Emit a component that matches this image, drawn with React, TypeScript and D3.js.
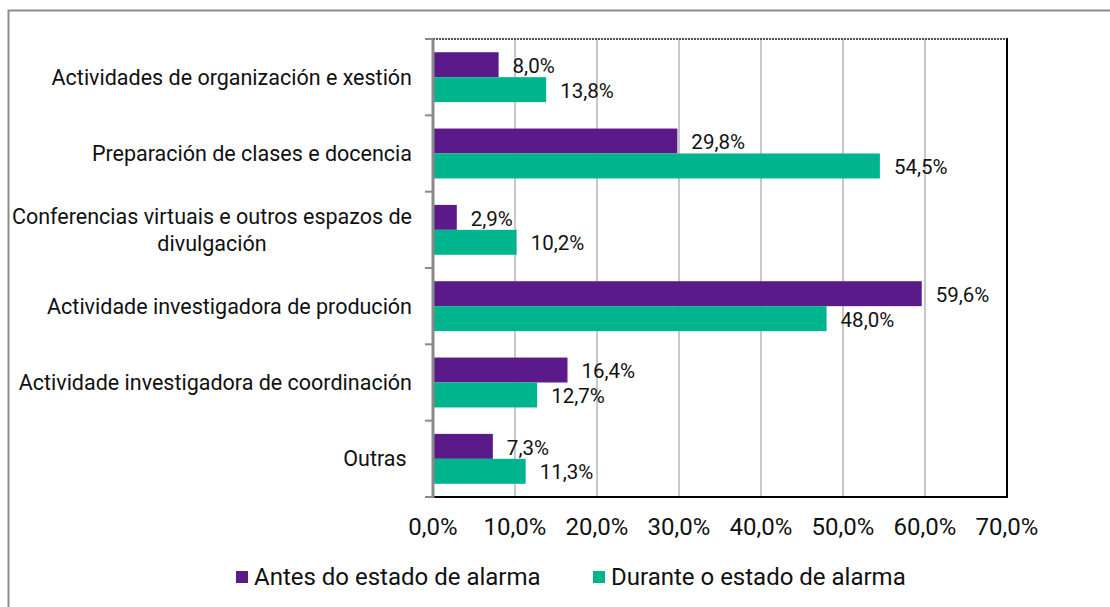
import React, { useRef, useEffect } from "react";
import * as d3 from "d3";

const categories = [
  ["Actividades de organización e xestión"],
  ["Preparación de clases e docencia"],
  ["Conferencias virtuais e outros espazos de", "divulgación"],
  ["Actividade investigadora de produción"],
  ["Actividade investigadora de coordinación"],
  ["Outras\u00a0"],
];
const antes = [8.0, 29.8, 2.9, 59.6, 16.4, 7.3];
const durante = [13.8, 54.5, 10.2, 48.0, 12.7, 11.3];
const seriesNames = ["Antes do estado de alarma", "Durante o estado de alarma"];
const xTicks = [0, 10, 20, 30, 40, 50, 60, 70];

const colors = ["#5a1a8a", "#00b48e"];
const fmt = (v: number) => v.toFixed(1).replace(".", ",") + "%";

const App = () => {
  const svgRef = useRef<SVGSVGElement>(null);

  useEffect(() => {
    const width = 1110;
    const height = 607;
    const svg = d3.select(svgRef.current).attr("width", width).attr("height", height);
    svg.selectAll("*").remove();
    const font = "Roboto, sans-serif";

    // outer frame
    svg.append("path")
      .attr("d", `M8.5,${height} L8.5,10.5 L${width},10.5`)
      .attr("fill", "none").attr("stroke", "#8c8c8c").attr("stroke-width", 2);

    const left = 433, right = 1007, top = 39, bottom = 497;
    const x = d3.scaleLinear().domain([0, 70]).range([left, right]);
    const y = d3.scaleBand().domain(d3.range(categories.length).map(String)).range([top, bottom]);
    const inner = d3.scaleBand().domain(["0", "1"]).range([0, y.bandwidth()]).paddingOuter(0.53).paddingInner(0);

    // gridlines
    svg.append("g").selectAll("line").data(xTicks.slice(1, -1)).enter().append("line")
      .attr("x1", d => x(d)).attr("x2", d => x(d))
      .attr("y1", top).attr("y2", bottom)
      .attr("stroke", "#c8c8c8").attr("stroke-width", 2);

    // top dotted border
    svg.append("line").attr("x1", left).attr("x2", right).attr("y1", top).attr("y2", top)
      .attr("stroke", "#555").attr("stroke-width", 2).attr("stroke-dasharray", "2,1");
    // right line
    svg.append("line").attr("x1", right).attr("x2", right).attr("y1", top - 1).attr("y2", bottom)
      .attr("stroke", "#000").attr("stroke-width", 2);

    const series = [antes, durante];
    series.forEach((vals, si) => {
      const g = svg.append("g");
      g.selectAll("rect").data(vals).enter().append("rect")
        .attr("x", left)
        .attr("y", (d, i) => (y(String(i)) as number) + (inner(String(si)) as number))
        .attr("width", d => x(d) - left)
        .attr("height", inner.bandwidth())
        .attr("fill", colors[si]);
      g.selectAll("text").data(vals).enter().append("text")
        .attr("x", d => x(d) + 14)
        .attr("y", (d, i) => (y(String(i)) as number) + (inner(String(si)) as number) + inner.bandwidth() / 2 + 1)
        .attr("dy", "0.35em")
        .attr("font-family", font).attr("font-size", 20.5).attr("fill", "#111")
        .text(d => fmt(d));
    });

    // bottom axis
    svg.append("line").attr("x1", left - 1).attr("x2", right + 1).attr("y1", bottom).attr("y2", bottom)
      .attr("stroke", "#000").attr("stroke-width", 2);
    svg.append("g").selectAll("text").data(xTicks).enter().append("text")
      .attr("x", d => x(d)).attr("y", 527).attr("dy", "0.35em")
      .attr("text-anchor", "middle")
      .attr("font-family", font).attr("font-size", 24).attr("fill", "#111")
      .text(d => fmt(d));

    // left axis
    svg.append("line").attr("x1", left).attr("x2", left).attr("y1", top).attr("y2", bottom + 1)
      .attr("stroke", "#8a8a8a").attr("stroke-width", 3);
    svg.append("g").selectAll("line").data(d3.range(categories.length + 1)).enter().append("line")
      .attr("x1", left - 8).attr("x2", left)
      .attr("y1", i => top + i * y.step()).attr("y2", i => top + i * y.step())
      .attr("stroke", "#8a8a8a").attr("stroke-width", 2);

    // category labels
    categories.forEach((lines, i) => {
      const cy = (y(String(i)) as number) + y.bandwidth() / 2;
      const t = svg.append("text")
        .attr("font-family", font).attr("font-size", 21.5).attr("fill", "#111");
      if (lines.length === 1) {
        t.attr("x", 412).attr("y", cy).attr("dy", "0.35em").attr("text-anchor", "end").text(lines[0]);
      } else {
        const tmp = t.append("tspan").text(lines[0]);
        const w = (tmp.node() as SVGTSpanElement).getComputedTextLength();
        tmp.remove();
        const cx = 412 - w / 2;
        lines.forEach((ln, k) => {
          t.append("tspan").attr("x", cx).attr("text-anchor", "middle")
            .attr("y", cy + (k - (lines.length - 1) / 2) * 27).attr("dy", "0.35em").text(ln);
        });
      }
    });

    // legend
    const legendX = [236, 593];
    seriesNames.forEach((name, i) => {
      svg.append("rect").attr("x", legendX[i]).attr("y", 571).attr("width", 12).attr("height", 12)
        .attr("fill", colors[i]);
      svg.append("text").attr("x", legendX[i] + 18).attr("y", 577).attr("dy", "0.35em")
        .attr("font-family", font).attr("font-size", 24).attr("fill", "#111").text(name);
    });
  }, []);

  return <svg ref={svgRef} style={{ position: "absolute", left: 0, top: 0, background: "#fff" }}></svg>;
};

export default App;
